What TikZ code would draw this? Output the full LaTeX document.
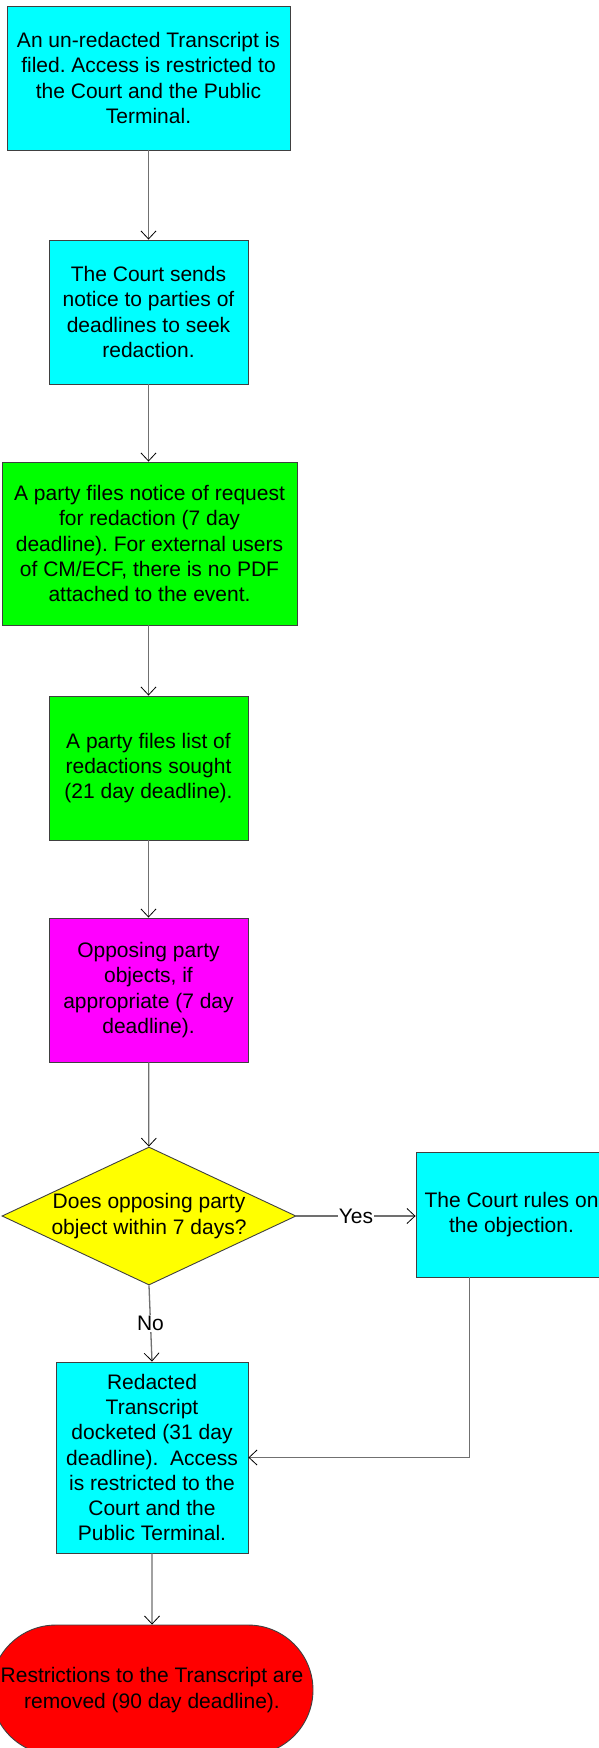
\documentclass[tikz,border=0pt]{standalone}
\usepackage{fontspec}
\setmainfont{Liberation Sans}
\usetikzlibrary{arrows.meta,shapes.geometric,shapes.misc}
\definecolor{cyanbox}{HTML}{00FFFF}
\definecolor{greenbox}{HTML}{00FF00}
\definecolor{magbox}{HTML}{FF00FF}
\definecolor{yelbox}{HTML}{FFFF00}
\definecolor{redbox}{HTML}{FF0000}
\definecolor{edgegray}{HTML}{404040}
\definecolor{linegray}{HTML}{707070}
\tikzset{
  txt/.style={font=\fontsize{21}{25.3}\selectfont\frenchspacing},
  box/.style={draw=edgegray, line width=0.9pt, rectangle, inner sep=0pt, align=center, txt},
  decision/.style={draw=edgegray, line width=0.9pt, diamond, aspect=2.13, inner sep=0pt,
    align=center, txt},
  terminal/.style={draw=edgegray, line width=0.9pt, rounded rectangle, inner sep=0pt,
    align=center, txt},
  conn/.style={draw=linegray, line width=1.3pt,
    -{Straight Barb[length=8pt,width=15pt,line width=0.8pt,black]}},
  lbl/.style={fill=white, inner sep=1pt, font=\fontsize{21}{24}\selectfont}
}
\begin{document}
\begin{tikzpicture}[x=1pt,y=-1pt]
\useasboundingbox (0,0) rectangle (599,1748);
\clip (0,0) rectangle (599,1748);
\fill[white] (0,0) rectangle (599,1748);

\node[box, fill=cyanbox, minimum width=283pt, minimum height=144pt] (b1) at (148.5,78)
  {An un-redacted Transcript is\\filed. Access is restricted to\\the Court and the Public\\Terminal.};
\node[box, fill=cyanbox, minimum width=199pt, minimum height=144pt] (b2) at (148.5,312)
  {The Court sends\\notice to parties of\\deadlines to seek\\redaction.};
\node[box, fill=greenbox, minimum width=295pt, minimum height=163pt] (b3) at (149.5,543.5)
  {A party files notice of request\\for redaction (7 day\\deadline). For external users\\of CM/ECF, there is no PDF\\attached to the event.};
\node[box, fill=greenbox, minimum width=199pt, minimum height=144pt] (b4) at (148.5,768)
  {A party files list of\\redactions sought\\(21 day deadline).};
\node[box, fill=magbox, minimum width=199pt, minimum height=144pt] (b5) at (148.5,990)
  {Opposing party\\objects, if\\appropriate (7 day\\deadline).};
\node[decision, fill=yelbox, minimum width=294pt, minimum height=138pt] (dia) at (149,1216)
  {Does opposing party\\object within 7 days?};
\node[box, fill=cyanbox, minimum width=191pt, minimum height=125pt] (rules) at (511.5,1214.5)
  {The Court rules on\\the objection.};
\node[box, fill=cyanbox, minimum width=192pt, minimum height=191pt] (red) at (152,1457.5)
  {Redacted\\Transcript\\docketed (31 day\\deadline).~ Access\\is restricted to the\\Court and the\\Public Terminal.};
\node[terminal, fill=redbox, minimum width=322pt, minimum height=130pt] (term) at (152,1690)
  {Restrictions to the Transcript are\\removed (90 day deadline).};

\draw[conn] (b1) -- (b2);
\draw[conn] (b2) -- (b2 |- b3.north);
\draw[conn] (b3.south -| b4.north) -- (b4);
\draw[conn] (b4) -- (b5);
\draw[conn] (b5) -- (dia);
\draw[conn] (dia.east) -- node[lbl] {Yes} (dia.east -| rules.west);
\draw[conn] (dia.south) -- node[lbl] {No} (red.north);
\draw[conn] ([xshift=54pt]rules.south west) |- (red.east);
\draw[conn] (red) -- (term);
\end{tikzpicture}
\end{document}
